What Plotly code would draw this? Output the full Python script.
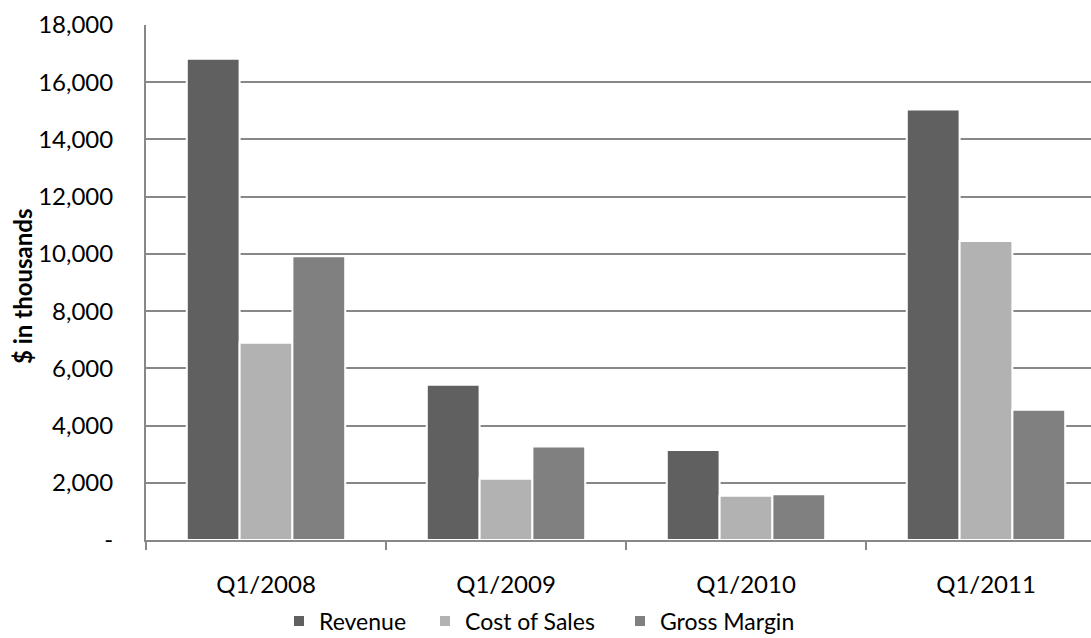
import plotly.graph_objects as go

categories = ["Q1/2008", "Q1/2009", "Q1/2010", "Q1/2011"]
revenue = [16820, 5430, 3150, 15050]
cost_of_sales = [6890, 2140, 1550, 10450]
gross_margin = [9920, 3270, 1600, 4550]
ytick_vals = [0, 2000, 4000, 6000, 8000, 10000, 12000, 14000, 16000, 18000]
ytick_text = ["-", "2,000", "4,000", "6,000", "8,000", "10,000", "12,000", "14,000", "16,000", "18,000"]

FONT = "Lato"
GRID = "#878787"
PL, PW, PT, PH = 146, 945, 25, 515

series = [("Revenue", revenue, "#606060", "legend", 297),
          ("Cost of Sales", cost_of_sales, "#b2b2b2", "legend2", 443),
          ("Gross Margin", gross_margin, "#808080", "legend3", 638)]

fig = go.Figure()
legends = {}
for name, vals, col, lg, sx in series:
    fig.add_trace(go.Bar(x=categories, y=vals, name=name, legend=lg,
                         marker=dict(color=col, line=dict(color="white", width=2))))
    legends[lg] = dict(orientation="h", x=(sx - 18 - PL) / PW, xanchor="left",
                       y=(PT + PH - 621) / PH, yanchor="middle",
                       font=dict(family=FONT, size=23, color="#000000"),
                       itemwidth=30, bgcolor="rgba(0,0,0,0)")

fig.update_layout(
    width=1091, height=638,
    margin=dict(l=PL, r=0, t=PT, b=638 - PT - PH, autoexpand=False),
    paper_bgcolor="white", plot_bgcolor="white",
    barmode="group", bargap=0.34, bargroupgap=0,
    font=dict(family=FONT, size=23, color="#000000"),
    showlegend=True,
    **legends,
)
fig.update_xaxes(
    range=[-0.5, 3.4375],
    showgrid=False, showline=True, linecolor=GRID, linewidth=2,
    ticks="outside", tickson="boundaries", ticklen=8, tickcolor=GRID, tickwidth=2,
    ticklabelstandoff=22,
    tickfont=dict(family=FONT, size=24, color="#000000"),
)
fig.update_yaxes(
    range=[0, 18000], tickvals=ytick_vals, ticktext=ytick_text,
    showgrid=True, gridcolor=GRID, gridwidth=1.5,
    zeroline=False, showline=True, linecolor=GRID, linewidth=2,
    ticks="", ticklabelstandoff=26,
    tickfont=dict(family=FONT, size=24, color="#000000"),
)
fig.add_annotation(text="<b>$ in thousands</b>", xref="paper", yref="paper",
                   x=(22 - PL) / PW, y=(PT + PH - 287) / PH, xanchor="center", yanchor="middle",
                   textangle=-90, showarrow=False,
                   font=dict(family=FONT, size=24, color="#000000"))

fig.write_html("out.html")
